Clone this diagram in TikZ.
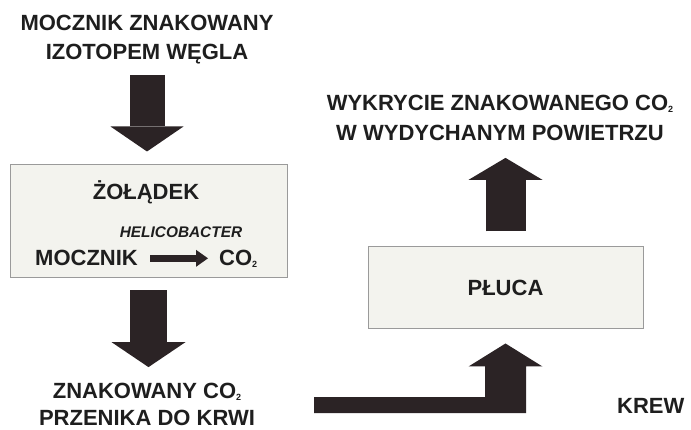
\documentclass[tikz,border=0pt]{standalone}
\usepackage{fontspec}
\setmainfont{Liberation Sans}
\usetikzlibrary{arrows.meta,calc}
\definecolor{ink}{HTML}{1E1E1E}
\definecolor{arr}{HTML}{2B2325}
\definecolor{boxfill}{HTML}{F3F3EE}
\definecolor{boxline}{HTML}{9A9A9A}
\newcommand\subtwo{\raisebox{-2pt}{\fontsize{9}{9}\selectfont 2}}
\begin{document}
\begin{tikzpicture}[x=1pt,y=-1pt,
  lab/.style={font=\fontsize{22}{29}\selectfont\bfseries, text=ink, inner sep=0pt, align=center, text depth=0pt},
  panel/.style={draw=boxline, line width=1pt, fill=boxfill, inner sep=0pt},
  bigarrow/.style={color=arr, line width=#1},
]
\useasboundingbox (0,0) rectangle (691,430);

% labels
\node[lab] (lab1) at (147,37.5) {MOCZNIK ZNAKOWANY\\IZOTOPEM WĘGLA};
\node[lab, font=\fontsize{22}{30}\selectfont\bfseries] (lab3) at (500,118) {WYKRYCIE ZNAKOWANEGO CO\subtwo\\W WYDYCHANYM POWIETRZU};
\node[lab, font=\fontsize{22}{27}\selectfont\bfseries] (lab2) at (147,404.5) {ZNAKOWANY CO\subtwo\\PRZENIKA DO KRWI};
\node[lab, anchor=base west] (krew) at (617,413) {KREW};

% stomach box
\node[panel, minimum width=277pt, minimum height=113pt] (box1) at (148.5,221.5) {};
\node[lab, anchor=base] (zol) at (146,200) {ŻOŁĄDEK};
\node[lab, anchor=base, font=\fontsize{15.4}{18}\selectfont\bfseries\itshape] (heli) at (181,237.5) {HELICOBACTER};
\node[lab, anchor=base west] (moc) at (35,266) {MOCZNIK};
\node[lab, anchor=base west] (co) at (219,266) {CO\subtwo};
\draw[color=arr, line width=6.5pt, -{Triangle[length=12pt,width=17pt,line width=0pt]},
      shorten <=12pt, shorten >=11pt] (moc.east) -- (co.west);

% lungs box
\node[panel, lab, minimum width=275pt, minimum height=82pt] (pluca) at (505.5,288) {PŁUCA};

% big arrows
\draw[bigarrow=35pt, -{Triangle[length=25pt,width=73pt,line width=0pt]}]
  ([yshift=-15pt]lab1.south) -- ([yshift=13pt]lab1.south |- box1.north);
\draw[bigarrow=37pt, -{Triangle[length=25pt,width=74pt,line width=0pt]}]
  ([yshift=-12pt]box1.south) -- ([yshift=16pt]box1.south |- lab2.north);
\draw[bigarrow=40pt, -{Triangle[length=22pt,width=74pt,line width=0pt]}]
  ([yshift=15pt]pluca.north) -- ([yshift=-17pt]pluca.north |- lab3.south);

% blood -> lungs elbow arrow
\coordinate (tip) at ([yshift=-14pt]pluca.south);
\coordinate (tail) at (314,405);
\fill[arr] ($(tail)+(0,-8)$) -- ($(tip|-tail)+(-20.5,-8)$) -- ($(tip)+(-20.5,23)$)
  -- ($(tip)+(-37,23)$) -- (tip) -- ($(tip)+(37,23)$) -- ($(tip)+(20.5,23)$)
  -- ($(tip|-tail)+(20.5,8)$) -- ($(tail)+(0,8)$) -- cycle;
\end{tikzpicture}
\end{document}
